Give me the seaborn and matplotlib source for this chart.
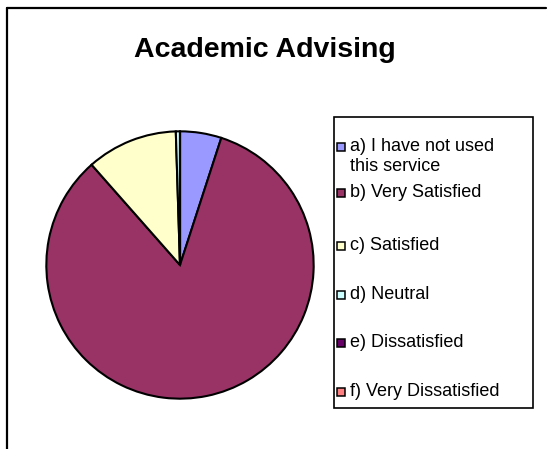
import matplotlib
matplotlib.use("Agg")
import matplotlib.pyplot as plt
import seaborn as sns
from matplotlib.patches import Rectangle
from matplotlib.lines import Line2D

# datos
etiquetas = ["a) I have not used\nthis service", "b) Very Satisfied", "c) Satisfied",
             "d) Neutral", "e) Dissatisfied", "f) Very Dissatisfied"]
valores = [5.0, 83.5, 11.0, 0.5, 0.0, 0.0]
colores = ["#9999FF", "#993366", "#FFFFCC", "#CCFFFF", "#660066", "#FF8080"]
titulo = "Academic Advising"

sns.set_theme(style="white")
plt.rcParams['font.family'] = ['Liberation Sans', 'DejaVu Sans']
plt.rcParams['text.color'] = 'black'

W, H = 548, 449
fig = plt.figure(figsize=(W / 100, H / 100), dpi=100)

def fx(px):
    return px / W

def fy(py):
    return 1 - py / H

# marco exterior (izquierda y arriba)
fig.add_artist(Line2D([fx(7), fx(7)], [fy(8), 0], color="black", lw=1.6, transform=fig.transFigure))
fig.add_artist(Line2D([fx(7), fx(546)], [fy(8), fy(8)], color="black", lw=1.6, transform=fig.transFigure))

# titulo
fig.text(fx(265), fy(50), titulo, ha="center", va="center", fontsize=20.5, fontweight="bold")

# pastel
cx, cy, r = 180, 265, 135
ax = fig.add_axes([fx(cx - r), fy(cy + r), (2 * r) / W, (2 * r) / H])
ax.pie(valores, colors=colores, startangle=90, counterclock=False,
       wedgeprops=dict(edgecolor="black", linewidth=1.5))
ax.set_xlim(-1.01, 1.01)
ax.set_ylim(-1.01, 1.01)
ax.set_aspect("equal")
ax.axis("off")

# leyenda
fig.add_artist(Rectangle((fx(334), fy(408)), fx(533) - fx(334), fy(117) - fy(408),
                         transform=fig.transFigure, facecolor="white", edgecolor="black", lw=1.2))
posiciones_y = [147, 193, 246, 295, 343, 392]
for lab, col, py in zip(etiquetas, colores, posiciones_y):
    fig.add_artist(Rectangle((fx(337), fy(py + 4)), 8 / W, 8 / H, transform=fig.transFigure,
                             facecolor=col, edgecolor="black", lw=1.1))
    fig.text(fx(350), fy(py - 9), lab, ha="left", va="top", fontsize=13, linespacing=1.2)

fig.savefig("out.png", dpi=100)
